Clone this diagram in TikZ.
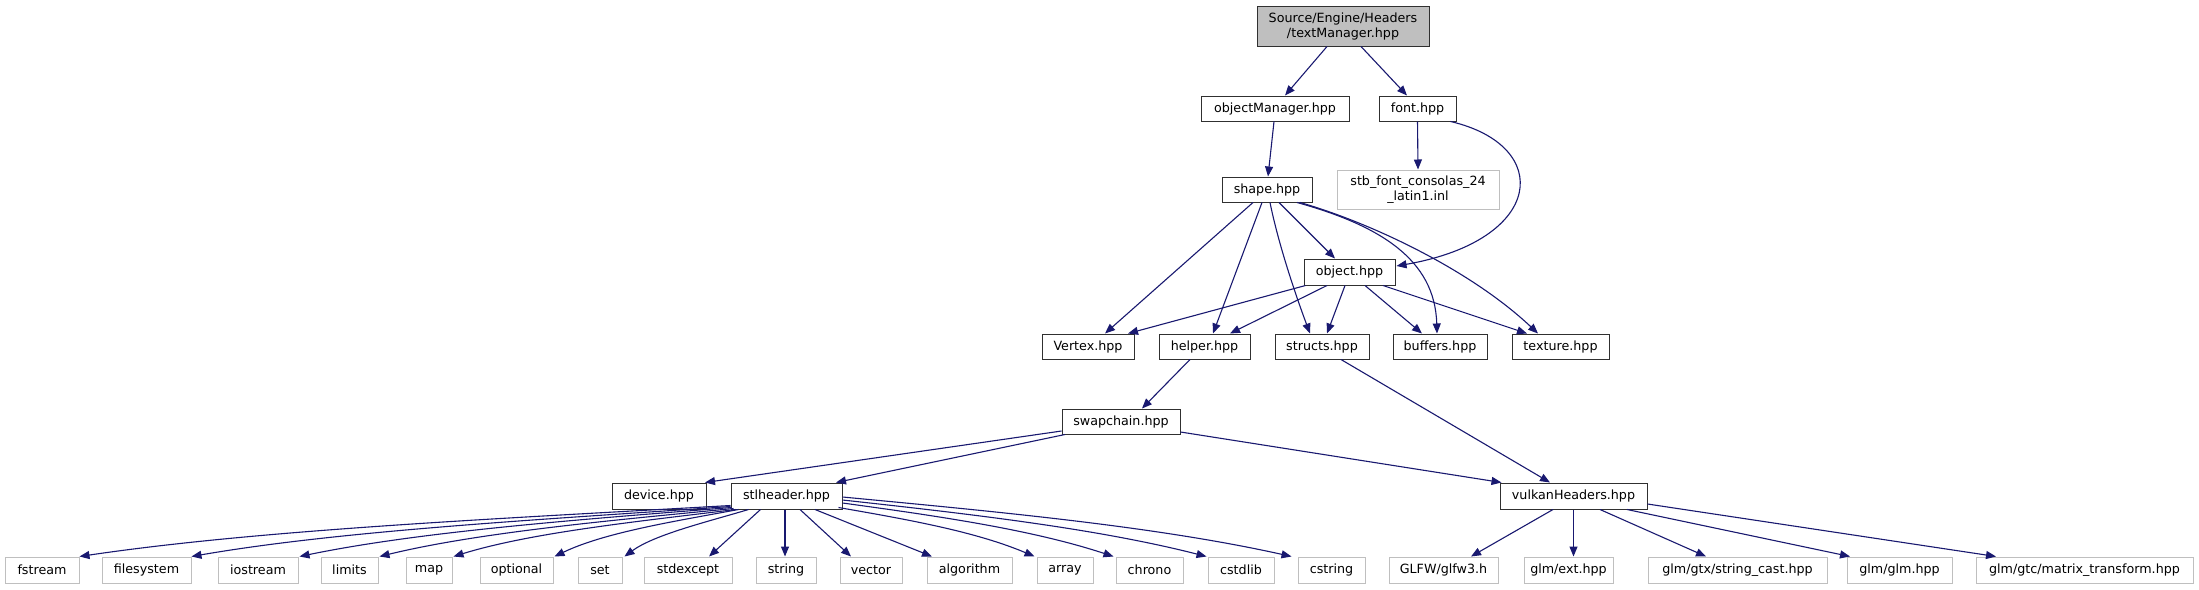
\documentclass[tikz,border=0pt]{standalone}
\usepackage{fontspec}
\setmainfont{DejaVu Sans}
\usetikzlibrary{arrows.meta,calc}
\definecolor{edgeblue}{HTML}{191970}
\definecolor{grayline}{HTML}{BFBFBF}
\definecolor{boxline}{HTML}{303030}
\begin{document}
\begin{tikzpicture}[x=1pt,y=-1pt,
 box/.style={draw=boxline,line width=1pt,fill=white,inner sep=0pt,minimum height=25,font=\fontsize{12.7}{15}\selectfont,align=center},
 extbox/.style={box,draw=grayline},
 rootbox/.style={box,fill=grayline},
 dep/.style={draw=edgeblue,line width=1.1pt,-{Triangle[length=10pt,width=8pt]}}]
\useasboundingbox[fill=white] (0,0) rectangle (2199,589);
% nodes
\node[rootbox,minimum width=172,minimum height=40] (tm) at (1343,26) {Source/Engine/Headers\\/textManager.hpp};
\node[box,minimum width=148] (om) at (1275,108.5) {objectManager.hpp};
\node[box,minimum width=77] (font) at (1417.5,108.5) {font.hpp};
\node[box,minimum width=90] (shape) at (1267,189.5) {shape.hpp};
\node[extbox,minimum width=162,minimum height=39] (stb) at (1418,189.5) {stb\_font\_consolas\_24\\\_latin1.inl};
\node[box,minimum width=91,minimum height=26] (obj) at (1349.5,272) {object.hpp};
\node[box,minimum width=92] (vertex) at (1088,346.5) {Vertex.hpp};
\node[box,minimum width=91] (helper) at (1204.5,346.5) {helper.hpp};
\node[box,minimum width=94] (structs) at (1322,346.5) {structs.hpp};
\node[box,minimum width=94] (buffers) at (1440,346.5) {buffers.hpp};
\node[box,minimum width=97] (texture) at (1560.5,346.5) {texture.hpp};
\node[box,minimum width=118] (swap) at (1121,421.5) {swapchain.hpp};
\node[box,minimum width=94,minimum height=26] (device) at (659,496) {device.hpp};
\node[box,minimum width=111,minimum height=26] (stl) at (786.5,496) {stlheader.hpp};
\node[box,minimum width=147,minimum height=26] (vulkan) at (1573.5,496) {vulkanHeaders.hpp};
% bottom row
\begin{scope}[every node/.style={extbox,minimum height=26}]
\node[minimum width=74] (fstream) at (42,570) {fstream};
\node[minimum width=89] (filesystem) at (146.5,570) {filesystem};
\node[minimum width=80] (iostream) at (258,570) {iostream};
\node[minimum width=57] (limits) at (349.5,570) {limits};
\node[minimum width=46] (map) at (429,570) {map};
\node[minimum width=73] (optional) at (516.5,570) {optional};
\node[minimum width=44] (set) at (600,570) {set};
\node[minimum width=88] (stdexcept) at (688,570) {stdexcept};
\node[minimum width=60] (string) at (786,570) {string};
\node[minimum width=62] (vector) at (871,570) {vector};
\node[minimum width=85] (algorithm) at (969.5,570) {algorithm};
\node[minimum width=56] (array) at (1065,570) {array};
\node[minimum width=67] (chrono) at (1149.5,570) {chrono};
\node[minimum width=66] (cstdlib) at (1241,570) {cstdlib};
\node[minimum width=67] (cstring) at (1331.5,570) {cstring};
\node[minimum width=109] (glfw) at (1443.5,570) {GLFW/glfw3.h};
\node[minimum width=89] (glmext) at (1568.5,570) {glm/ext.hpp};
\node[minimum width=179] (strcast) at (1737.5,570) {glm/gtx/string\_cast.hpp};
\node[minimum width=105] (glmglm) at (1899.5,570) {glm/glm.hpp};
\node[minimum width=217] (mattrans) at (2084.5,570) {glm/gtc/matrix\_transform.hpp};
\end{scope}
% edges
\draw[dep] ($(tm.south)+(-16,0)$) -- ($(om.north)+(10,0)$);
\draw[dep] ($(tm.south)+(18,0)$) -- ($(font.north)+(-10.5,0)$);
\draw[dep] ($(om.south)+(-1,0)$) -- ($(shape.north)+(1,0)$);
\draw[dep] (font.south) -- (stb.north);
\draw[dep] ($(font.south east)+(-6,0)$) .. controls +(103,24) and +(149,-26) .. ($(obj.east)+(1,-6)$);
\draw[dep] ($(shape.south)+(-14,0)$) -- ($(vertex.north)+(17,0)$);
\draw[dep] ($(shape.south)+(-5,0)$) -- ($(helper.north)+(8.5,0)$);
\draw[dep] ($(shape.south)+(3,0)$) .. controls +(8,40) and +(-15,-40) .. ($(structs.north)+(-12,0)$);
\draw[dep] ($(shape.south)+(12,0)$) -- ($(obj.north)+(-14.5,0)$);
\draw[dep] ($(shape.south)+(30,0)$) .. controls +(83,23) and +(-2,-74) .. ($(buffers.north)+(-3,0)$);
\draw[dep] ($(shape.south)+(33,0)$) .. controls +(70,20) and +(-68,-64) .. ($(texture.north)+(-22.5,0)$);
\draw[dep] ($(obj.south)+(-44,0)$) -- ($(vertex.north)+(40,0)$);
\draw[dep] ($(obj.south)+(-22.5,0)$) -- ($(helper.north)+(25.5,0)$);
\draw[dep] ($(obj.south)+(-4.5,0)$) -- ($(structs.north)+(5,0)$);
\draw[dep] ($(obj.south)+(15.5,0)$) -- ($(buffers.north)+(-18,0)$);
\draw[dep] ($(obj.south)+(33.5,0)$) -- ($(texture.north)+(-33.5,0)$);
\draw[dep] ($(helper.south)+(-14.5,0)$) -- ($(swap.north)+(21,0)$);
\draw[dep] ($(structs.south)+(19,0)$) -- ($(vulkan.north)+(-23.5,0)$);
\draw[dep] ($(swap.west)+(0,9.5)$) -- ($(device.north)+(46,0)$);
\draw[dep] ($(swap.south)+(-56,0)$) -- ($(stl.north)+(49.5,0)$);
\draw[dep] ($(swap.east)+(0,10.5)$) -- ($(vulkan.north)+(-72,0)$);
% vulkan children
\draw[dep] ($(vulkan.south)+(-20.5,0)$) -- ($(glfw.north)+(27.5,0)$);
\draw[dep] (vulkan.south) -- ($(glmext.north)+(5,0)$);
\draw[dep] ($(vulkan.south)+(26.5,0)$) -- ($(strcast.north)+(-31.5,0)$);
\draw[dep] ($(vulkan.south)+(53.5,0)$) -- ($(glmglm.north)+(-49.5,0)$);
\draw[dep] ($(vulkan.east)+(0,8)$) -- ($(mattrans.north)+(-88.5,0)$);
% stl children
\draw[dep] ($(stl.south west)+(0,-4)$) .. controls +(-228,13) and +(182,-27) .. (fstream.north east);
\draw[dep] ($(stl.south west)+(0,-3)$) .. controls +(-188,13) and +(150,-26) .. (filesystem.north east);
\draw[dep] ($(stl.south west)+(1,-2)$) .. controls +(-152,12) and +(121,-25) .. ($(iostream.north east)+(1,0)$);
\draw[dep] ($(stl.south west)+(3,-1)$) .. controls +(-124,12) and +(99,-24) .. ($(limits.north east)+(1,0)$);
\draw[dep] ($(stl.south west)+(5,0)$) .. controls +(-98,12) and +(78,-24) .. ($(map.north east)+(1,0)$);
\draw[dep] ($(stl.south west)+(8,0)$) .. controls +(-65,12) and +(50,-24) .. ($(optional.north east)+(1,0)$);
\draw[dep] ($(stl.south west)+(18,0)$) .. controls +(-40,12) and +(30,-22) .. ($(set.north east)+(2,0)$);
\draw[dep] ($(stl.south west)+(30,0)$) -- ($(stdexcept.north)+(21,0)$);
\draw[dep] ($(stl.south)+(-1.5,0)$) -- ($(string.north)+(-1,0)$);
\draw[dep] ($(stl.south)+(13.5,0)$) -- ($(vector.north)+(-20,0)$);
\draw[dep] ($(stl.south)+(28.5,0)$) -- ($(algorithm.north)+(-37.5,0)$);
\draw[dep] ($(stl.south east)+(-4,-2)$) .. controls +(69,12) and +(-59,-25) .. ($(array.north west)+(-2,0)$);
\draw[dep] ($(stl.east)+(0,7)$) .. controls +(95,13) and +(-82,-27) .. ($(chrono.north west)+(-2,0)$);
\draw[dep] ($(stl.east)+(0,4)$) .. controls +(128,14) and +(-110,-28) .. ($(cstdlib.north west)+(-1,0)$);
\draw[dep] ($(stl.east)+(0,1)$) .. controls +(158,15) and +(-135,-30) .. ($(cstring.north west)+(-6,0)$);
\end{tikzpicture}
\end{document}
